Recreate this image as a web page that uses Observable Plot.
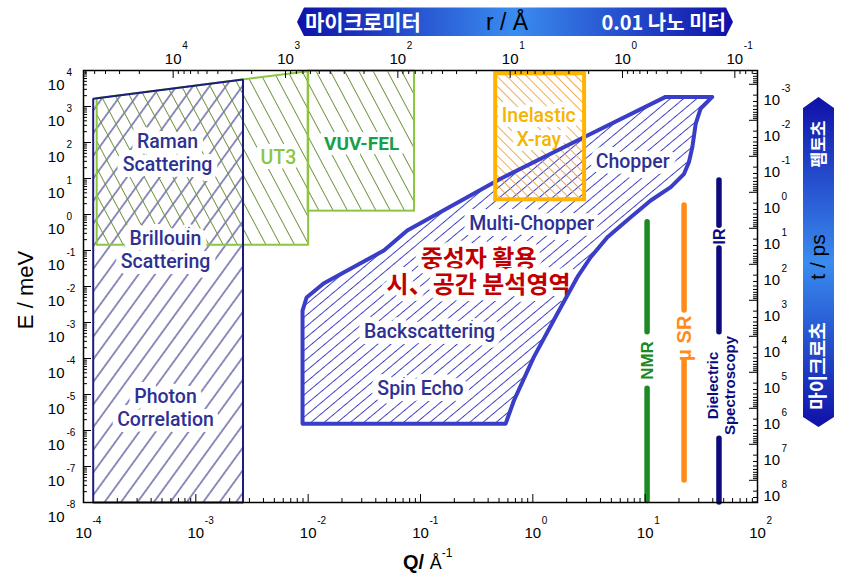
<!DOCTYPE html>
<html><head><meta charset="utf-8">
<script src="https://cdn.jsdelivr.net/npm/d3@7"></script>
<script src="https://cdn.jsdelivr.net/npm/@observablehq/plot@0.6"></script>
<style>html,body{margin:0;padding:0;background:#fff}svg{display:block}</style>
</head><body><div id="chart"></div>
<script>
// ---------- axis tick data ----------
const qExp = [-4, -3, -2, -1, 0, 1, 2];          // bottom: Q / Å^-1
const eExp = [-8, -7, -6, -5, -4, -3, -2, -1, 0, 1, 2, 3, 4]; // left: E / meV
const rExp = [4, 3, 2, 1, 0, -1];                // top: r / Å  (Q = 2π / r)
const tExp = [-3, -2, -1, 0, 1, 2, 3, 4, 5, 6, 7, 8]; // right: t / ps (E = h / t)
const H_MEV_PS = 4.136;

// ---------- regions ----------
const ramanQ = [1.22e-4, 1.22e-4, 2.63e-3, 2.63e-3, 1.22e-4];
const ramanE = [1e-8, 1640, 5600, 1e-8, 1e-8];
const ut3Q = [1.31e-4, 1.31e-4, 1.0e-2, 1.0e-2, 1.31e-4];
const ut3E = [0.144, 1690, 9600, 0.144, 0.144];
const vuvQ = [0.01, 0.0885];
const vuvE = [1.24, 9600];
const xrayQ = [0.467, 2.89];
const xrayE = [2.56, 8100];
const neutronQ = [0.00891, 0.00891, 0.00968, 0.0137, 0.0472, 0.0762, 0.516, 2.85, 15.2, 39.6,
  31.2, 28.2, 26.3, 24.5, 22.2, 16.9, 11.2, 7.43, 4.61, 3.27, 2.49, 1.65, 1.02, 0.679, 0.573, 0.00891];
const neutronE = [1.55e-6, 2.15e-3, 4.94e-3, 0.0121, 0.1, 0.36, 9.8, 140, 1850, 1850,
  880, 337, 74, 28.4, 13.5, 5.73, 2.45, 0.84, 0.234, 0.065, 0.0181, 1.75e-3, 1.09e-4, 6.8e-6, 1.55e-6, 1.55e-6];

// ---------- probe bars (segments) ----------
const segProbe = ["NMR", "NMR", "muSR", "muSR", "IR", "IR", "IR"];
const segQ = [10.4, 10.4, 22.2, 22.2, 45.4, 45.4, 45.4];
const segTop = [0.61, 1.45e-5, 1.78, 8.8e-5, 8.8, 0.114, 5.9e-7];
const segBottom = [5.4e-4, 1.1e-8, 2.15e-3, 4.1e-8, 0.49, 5.4e-4, 1e-8];

// ---------- labels ----------
const regionText = ["Raman\nScattering", "Brillouin\nScattering", "Photon\nCorrelation", "Chopper",
  "Multi-Chopper", "Backscattering", "Spin Echo"];
const regionQ = [5.6e-4, 5.37e-4, 5.37e-4, 7.74, 0.975, 0.1205, 0.1];
const regionE = [52.7, 0.107, 4.6e-6, 31.6, 0.6, 6.0e-4, 1.56e-5];
const koreanText = ["중성자 활용\n시、공간 분석영역"];
const koreanQ = [0.329];
const koreanE = [0.026];
const probeText = ["NMR", "μ SR", "IR", "Dielectric\nSpectroscopy"];
const probeLabelQ = [10.4, 22.2, 45.4, 47.5];
const probeLabelE = [8.8e-5, 3.6e-4, 0.245, 1.78e-5];

// ---------- styles ----------
const probeColor = {NMR: "#1b8a22", muSR: "#ff8c1a", IR: "#0b0b7e"};
const probeTextColor = ["#1b8a22", "#ff8c1a", "#0b0b7e", "#0b0b7e"];
const probeTextSize = [17, 20, 16, 15];
const NAVY = "#1c1c7c", BLUE = "#3a3ec6", GREEN = "#8cc63f", ORANGE = "#ffb400", TXT = "#2e3192";
const KFONT = "'Noto Sans CJK KR', 'Noto Sans', sans-serif";
const LFONT = "Roboto, 'Liberation Sans', sans-serif";
const AFONT = "'Liberation Sans', Arial, sans-serif";

const W = 854, H = 575, mL = 83, mR = 97, mT = 70, mB = 73;
const plotW = W - mL - mR, plotH = H - mT - mB;
const MAJ = 8, MIN = 4;

const minors = (lo, hi) => {
  const out = [];
  for (let k = lo; k <= hi; k++) for (let m = 2; m <= 9; m++) out.push(m * 10 ** k);
  return out;
};
const inQ = q => q >= 1e-4 && q <= 1e2;
const inE = e => e >= 1e-8 && e <= 1e4;
const qMinor = minors(-4, 1);
const eMinor = minors(-8, 3);
const rMinor = minors(-2, 4).filter(r => inQ(2 * Math.PI / r));
const tMinor = minors(-4, 8).filter(t => inE(H_MEV_PS / t));
const rMajor = rExp.map(k => 10 ** k);
const tMajor = tExp.map(k => 10 ** k);

const halo = w => ({stroke: "white", strokeWidth: w, paintOrder: "stroke", strokeLinejoin: "round"});

const chart = Plot.plot({
  width: W, height: H,
  marginLeft: mL, marginRight: mR, marginTop: mT, marginBottom: mB,
  style: {fontFamily: AFONT, background: "white", color: "black"},
  x: {type: "log", domain: [1e-4, 1e2], axis: null},
  y: {type: "log", domain: [1e-8, 1e4], axis: null},
  marks: [
    // hatched fills
    Plot.line(ramanQ, {x: ramanQ, y: ramanE, fill: "url(#hNavy)", stroke: "none"}),
    Plot.line(ut3Q, {x: ut3Q, y: ut3E, fill: "url(#hGreen)", stroke: "none"}),
    Plot.rect([0], {x1: vuvQ[0], x2: vuvQ[1], y1: vuvE[0], y2: vuvE[1], fill: "url(#hGreen)"}),
    Plot.line(neutronQ, {x: neutronQ, y: neutronE, fill: "url(#hBlue)", stroke: "none"}),
    Plot.rect([0], {x1: xrayQ[0], x2: xrayQ[1], y1: xrayE[0], y2: xrayE[1], fill: "url(#hOrange)"}),
    // green outlines (under labels)
    Plot.line(ut3Q, {x: ut3Q, y: ut3E, stroke: GREEN, strokeWidth: 2, strokeLinejoin: "miter"}),
    Plot.rect([0], {x1: vuvQ[0], x2: vuvQ[1], y1: vuvE[0], y2: vuvE[1], fill: "none", stroke: GREEN, strokeWidth: 2}),
    // labels with white halos
    Plot.text(regionText, {x: regionQ, y: regionE, text: d => d, fill: TXT, fontSize: 19.5, fontFamily: LFONT,
      fontWeight: 500, lineHeight: 1.18, ...halo(12)}),
    Plot.text(["UT3"], {x: [5.44e-3], y: [38.3], text: d => d, fill: GREEN, fontSize: 19.5, fontFamily: LFONT, fontWeight: 500, ...halo(10)}),
    Plot.text(["VUV-FEL"], {x: [0.0299], y: [93.8], text: d => d, fill: "#17a04a", fontSize: 19, fontFamily: LFONT, fontWeight: 700, ...halo(10)}),
    Plot.text(["Inelastic\nX-ray"], {x: [1.13], y: [278], text: d => d, fill: "#f5b400", fontSize: 19.5, fontFamily: LFONT, fontWeight: 500,
      lineHeight: 1.2, ...halo(10)}),
    Plot.text(koreanText, {x: koreanQ, y: koreanE, text: d => d, fill: "#c00000", fontSize: 24, fontFamily: KFONT, fontWeight: 700,
      lineHeight: 1.1, ...halo(12)}),
    // outlines
    Plot.line(ramanQ, {x: ramanQ, y: ramanE, stroke: NAVY, strokeWidth: 2, strokeLinejoin: "miter"}),
    Plot.line(neutronQ, {x: neutronQ, y: neutronE, stroke: BLUE, strokeWidth: 4, strokeLinejoin: "round"}),
    Plot.rect([0], {x1: xrayQ[0], x2: xrayQ[1], y1: xrayE[0], y2: xrayE[1], fill: "none", stroke: ORANGE, strokeWidth: 4}),
    // probe bars
    Plot.ruleX(segQ, {x: segQ, y1: segTop, y2: segBottom, stroke: segProbe.map(p => probeColor[p]),
      strokeWidth: 5.5, strokeLinecap: "round"}),
    Plot.text(probeText, {x: probeLabelQ, y: probeLabelE, text: d => d, rotate: -90,
      fill: probeTextColor, fontSize: probeTextSize, fontWeight: 700, fontFamily: AFONT, lineHeight: 1.1}),
    // frame
    Plot.frame({stroke: "black", strokeWidth: 1.5}),
    // bottom ticks (inward)
    Plot.tickX(qExp.map(k => 10 ** k), {x: d => d, insetTop: plotH - MAJ, stroke: "black"}),
    Plot.tickX(qMinor, {x: d => d, insetTop: plotH - MIN, stroke: "black"}),
    // top ticks (r)
    Plot.tickX(rMajor, {x: r => 2 * Math.PI / r, insetBottom: plotH - MAJ, stroke: "black"}),
    Plot.tickX(rMinor, {x: r => 2 * Math.PI / r, insetBottom: plotH - MIN, stroke: "black"}),
    // left ticks
    Plot.tickY(eExp.map(k => 10 ** k), {y: d => d, insetRight: plotW - MAJ, stroke: "black"}),
    Plot.tickY(eMinor, {y: d => d, insetRight: plotW - MIN, stroke: "black"}),
    // right ticks (t)
    Plot.tickY(tMajor, {y: t => H_MEV_PS / t, insetLeft: plotW - MAJ, stroke: "black"}),
    Plot.tickY(tMinor, {y: t => H_MEV_PS / t, insetLeft: plotW - MIN, stroke: "black"}),
    // bottom labels
    Plot.text(qExp, {x: k => 10 ** k, frameAnchor: "bottom", text: () => "10", dy: 35, fontSize: 15}),
    Plot.text(qExp, {x: k => 10 ** k, frameAnchor: "bottom", text: k => String(k), dx: 9, dy: 21, fontSize: 10, textAnchor: "start"}),
    // top labels
    Plot.text(rExp, {x: k => 2 * Math.PI / 10 ** k, frameAnchor: "top", text: () => "10", dy: -17, fontSize: 15}),
    Plot.text(rExp, {x: k => 2 * Math.PI / 10 ** k, frameAnchor: "top", text: k => String(k), dx: 9, dy: -29, fontSize: 10, textAnchor: "start"}),
    // left labels
    Plot.text(eExp, {y: k => 10 ** k, frameAnchor: "left", text: () => "10", dx: -19, dy: 15, fontSize: 15, textAnchor: "end"}),
    Plot.text(eExp, {y: k => 10 ** k, frameAnchor: "left", text: k => String(k), dx: -17, dy: 2, fontSize: 10, textAnchor: "start"}),
    // right labels
    Plot.text(tExp, {y: k => H_MEV_PS / 10 ** k, frameAnchor: "right", text: () => "10", dx: 6, dy: 16, fontSize: 15, textAnchor: "start"}),
    Plot.text(tExp, {y: k => H_MEV_PS / 10 ** k, frameAnchor: "right", text: k => String(k), dx: 24, dy: 4, fontSize: 10, textAnchor: "start"})
  ]
});

// ---------- patterns, gradients, banners, titles ----------
const s = d3.select(chart);
const defs = s.insert("defs", ":first-child");
function hatch(id, color, spacing, angle, width) {
  defs.append("pattern").attr("id", id).attr("patternUnits", "userSpaceOnUse")
    .attr("width", spacing).attr("height", spacing)
    .attr("patternTransform", `rotate(${angle})`)
    .append("line").attr("x1", spacing / 2).attr("y1", 0).attr("x2", spacing / 2).attr("y2", spacing)
    .attr("stroke", color).attr("stroke-width", width);
}
hatch("hNavy", NAVY, 13.3, 36, 1);
hatch("hGreen", "#6f9440", 12.6, -28, 1);
hatch("hOrange", "#f0a040", 7, -45, 0.9);
hatch("hBlue", BLUE, 8.5, 50, 1);

function grad(id, vertical) {
  const g = defs.append("linearGradient").attr("id", id)
    .attr("x1", 0).attr("y1", 0).attr("x2", vertical ? 0 : 1).attr("y2", vertical ? 1 : 0);
  [[0, "#1010a8"], [0.5, "#3a8cf0"], [1, "#1010a8"]].forEach(([o, c]) =>
    g.append("stop").attr("offset", o).attr("stop-color", c));
}
grad("gTop", false);
grad("gRight", true);

const deco = s.append("g");
deco.append("polygon").attr("points", "297,22 304,7.5 726,7.5 733,22 726,36 304,36").attr("fill", "url(#gTop)");
deco.append("text").attr("x", 305).attr("y", 30).attr("fill", "white").attr("font-family", KFONT)
  .attr("font-weight", 700).attr("font-size", 21).attr("text-anchor", "start").text("마이크로미터");
deco.append("text").attr("x", 507).attr("y", 30).attr("fill", "black").attr("font-family", AFONT)
  .attr("font-size", 23).attr("text-anchor", "middle").text("r / Å");
deco.append("text").attr("x", 726).attr("y", 29.5).attr("fill", "white").attr("font-family", KFONT)
  .attr("font-weight", 700).attr("font-size", 20).attr("text-anchor", "end").text("0.01 나노 미터");

deco.append("polygon").attr("points", "818.5,97 834,108 834,417 818.5,427 803,417 803,108").attr("fill", "url(#gRight)");
const vt = (y, txt, size, color, fam, weight) => deco.append("text")
  .attr("transform", `translate(${825},${y}) rotate(-90)`).attr("text-anchor", "middle")
  .attr("fill", color).attr("font-family", fam).attr("font-weight", weight).attr("font-size", size).text(txt);
vt(144, "펨토초", 17, "white", KFONT, 700);
vt(257, "t / ps", 21, "black", AFONT, 400);
vt(366, "마이크로초", 19, "white", KFONT, 700);

deco.append("text").attr("transform", "translate(33,290) rotate(-90)").attr("text-anchor", "middle")
  .attr("font-family", AFONT).attr("font-size", 22).attr("fill", "black").text("E / meV");
const qt = deco.append("text").attr("x", 403).attr("y", 569).attr("text-anchor", "start")
  .attr("font-family", AFONT).attr("fill", "black");
qt.append("tspan").attr("font-weight", 700).attr("font-size", 20).text("Q/ ");
qt.append("tspan").attr("font-size", 18).text("Å");
qt.append("tspan").attr("font-size", 12).attr("dy", -12).text("-1");

document.getElementById("chart").append(chart);
</script>
</body></html>
